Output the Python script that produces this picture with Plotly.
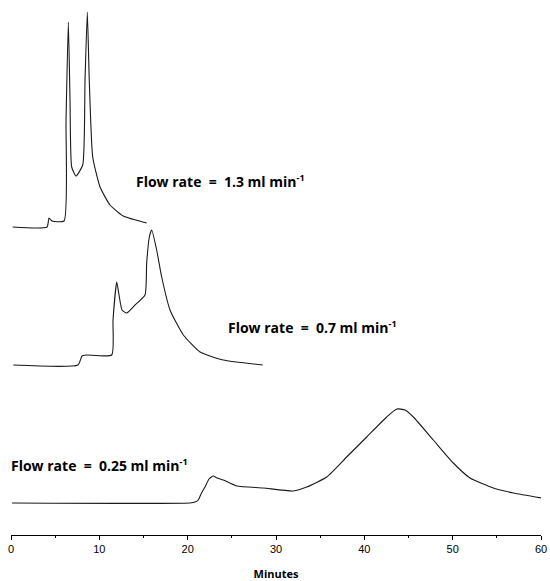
import plotly.graph_objects as go

# Trace at 1.3 ml/min (time in minutes, detector response in arbitrary units)
t_13 = [0.19, 4.08, 4.3, 4.64, 6.0, 6.23, 6.49, 6.68, 6.87, 7.36, 8.12, 8.38, 8.64, 8.86, 9.25, 10.08, 11.21, 12.71, 15.36]
s_13 = [0, 0, 9, 6, 6, 107, 205, 127, 60, 51, 62, 147, 215, 147, 70, 40, 22, 11, 4]

# Trace at 0.7 ml/min
t_07 = [0.26, 7.58, 8.04, 8.49, 11.40, 11.55, 11.97, 12.23, 12.57, 13.10, 14.04, 15.17, 15.36, 15.66, 15.93, 16.49, 17.06, 18.00, 19.51, 21.40, 24.03, 28.50]
s_07 = [0, 0, 9, 10, 10, 45, 83, 70, 55, 52, 60, 70, 102, 128, 135, 115, 88, 55, 30, 13, 5, 0]

# Trace at 0.25 ml/min
t_025 = [0.11, 20.26, 20.83, 21.20, 21.51, 21.96, 22.42, 22.90, 23.32, 24.03, 25.55, 28.56, 31.96, 33.48, 35.74, 38.00, 40.27, 42.53, 43.67, 44.61, 45.55, 47.81, 50.07, 51.96, 54.60, 56.87, 60.08]
s_025 = [0, 0, 1, 3, 9, 16, 24, 27, 25, 23, 17, 15, 12, 16, 26, 46, 66, 86, 94, 93, 86, 63, 40, 25, 15, 10, 5]

labels = ["Flow rate  =  1.3 ml min<sup><span style='font-size:9px'>-1</span></sup>",
          "Flow rate  =  0.7 ml min<sup><span style='font-size:9px'>-1</span></sup>",
          "Flow rate  =  0.25 ml min<sup><span style='font-size:9px'>-1</span></sup>"]

x_ticks = [0, 10, 20, 30, 40, 50, 60]

# vertical stacking offsets (layout)
offsets = [308, 170, 32]
label_pos = [(14.15, 354), (24.6, 208), (0.0, 70)]

fig = go.Figure()
for t, s, off in zip([t_13, t_07, t_025], [s_13, s_07, s_025], offsets):
    fig.add_trace(go.Scatter(
        x=t, y=[v + off for v in s], mode="lines",
        line=dict(color="#1a1a1a", width=1.1, shape="spline", smoothing=0.5),
        hoverinfo="skip", showlegend=False))

for txt, (lx, ly) in zip(labels, label_pos):
    fig.add_annotation(x=lx, y=ly, xref="x", yref="y", text=txt, showarrow=False,
                       xanchor="left", yanchor="middle", xshift=-2,
                       font=dict(family="Open Sans", size=14, color="black", weight="bold"))

fig.update_xaxes(range=[0, 60], tickvals=x_ticks, ticktext=[str(v) for v in x_ticks],
                 showline=True, linecolor="black", linewidth=1, ticks="outside",
                 ticklen=4, tickcolor="black", tickwidth=1,
                 minor=dict(dtick=5, ticks="outside", ticklen=2, tickcolor="black"),
                 showgrid=False, zeroline=False,
                 tickfont=dict(family="Liberation Sans", size=11, color="black"),
                 title=dict(text="Minutes", font=dict(family="Open Sans", size=11, color="black", weight="bold"),
                            standoff=16))
fig.update_yaxes(range=[0, 535], visible=False, showgrid=False, zeroline=False)

fig.update_layout(width=550, height=581, margin=dict(l=11, r=9, t=0, b=46),
                  plot_bgcolor="white", paper_bgcolor="white")

fig.write_html("out.html")
